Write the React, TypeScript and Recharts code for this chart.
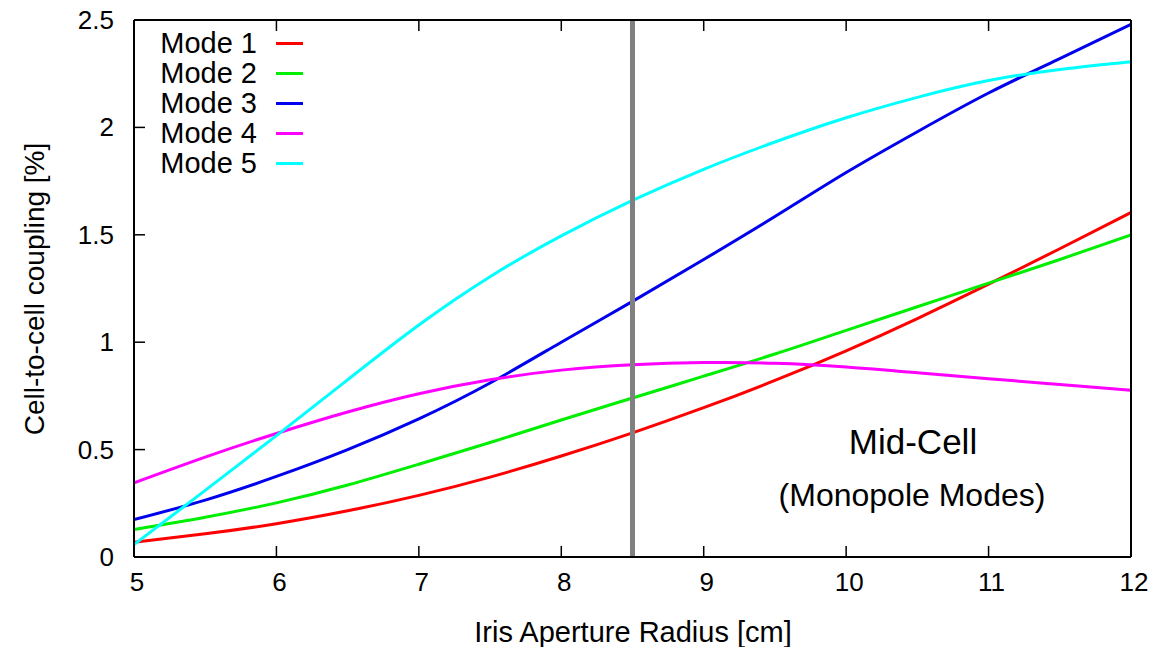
import React from 'react';
import { LineChart, Line, XAxis, YAxis, ReferenceLine } from 'recharts';

// iris aperture radius [cm]
const RADIUS = [5, 5.5, 6, 6.5, 7, 7.5, 8, 8.5, 9, 9.5, 10, 10.5, 11, 11.5, 12];

// cell-to-cell coupling [%]
const MODE1 = [0.069, 0.108, 0.155, 0.215, 0.287, 0.372, 0.47, 0.578, 0.695, 0.822, 0.96, 1.11, 1.27, 1.435, 1.604];
const MODE2 = [0.128, 0.185, 0.252, 0.335, 0.432, 0.533, 0.638, 0.74, 0.842, 0.945, 1.055, 1.165, 1.275, 1.385, 1.5];
const MODE3 = [0.174, 0.265, 0.375, 0.5, 0.643, 0.81, 1.0, 1.19, 1.385, 1.585, 1.79, 1.98, 2.16, 2.32, 2.48];
const MODE4 = [0.345, 0.465, 0.575, 0.675, 0.76, 0.825, 0.87, 0.895, 0.905, 0.902, 0.885, 0.858, 0.83, 0.803, 0.776];
const MODE5 = [0.058, 0.31, 0.565, 0.825, 1.08, 1.305, 1.495, 1.66, 1.805, 1.932, 2.045, 2.14, 2.218, 2.27, 2.306];

const X_TICKS = [5, 6, 7, 8, 9, 10, 11, 12];
const Y_TICKS = [0, 0.5, 1, 1.5, 2, 2.5];
const MID_CELL_RADIUS = 8.5;

const SERIES = [
  { key: 'm1', name: 'Mode 1', color: '#ff0000' },
  { key: 'm2', name: 'Mode 2', color: '#00ee00' },
  { key: 'm3', name: 'Mode 3', color: '#0000ee' },
  { key: 'm4', name: 'Mode 4', color: '#ff00ff' },
  { key: 'm5', name: 'Mode 5', color: '#00ffff' },
];

const data = RADIUS.map((x, i) => ({
  x,
  m1: MODE1[i],
  m2: MODE2[i],
  m3: MODE3[i],
  m4: MODE4[i],
  m5: MODE5[i],
}));

const FONT = '"Liberation Sans", Arial, Helvetica, sans-serif';
const TICK_LEN = 11;

const BottomTick = ({ x, y, payload }: any) => (
  <g>
    <line x1={x} x2={x} y1={y} y2={y - TICK_LEN} stroke="#000" strokeWidth={1.5} />
    <text x={x + 3} y={y + 34} textAnchor="middle" fontSize={26} fontFamily={FONT} fill="#000">
      {payload.value}
    </text>
  </g>
);

const TopTick = ({ x, y }: any) => (
  <line x1={x} x2={x} y1={y} y2={y + TICK_LEN} stroke="#000" strokeWidth={1.5} />
);

const LeftTick = ({ x, y, payload }: any) => (
  <g>
    <line x1={x} x2={x + TICK_LEN} y1={y} y2={y} stroke="#000" strokeWidth={1.5} />
    <text x={x - 20} y={y + 9} textAnchor="end" fontSize={26} fontFamily={FONT} fill="#000">
      {payload.value}
    </text>
  </g>
);

const RightTick = ({ x, y }: any) => (
  <line x1={x} x2={x - TICK_LEN} y1={y} y2={y} stroke="#000" strokeWidth={1.5} />
);

const axisLine = { stroke: '#000', strokeWidth: 2 };

export default function App() {
  return (
    <div style={{ position: 'absolute', left: 0, top: 0, width: 1169, height: 647, background: '#fff', fontFamily: FONT }}>
      <LineChart width={1169} height={647} data={data} margin={{ top: 19, right: 37, left: 133, bottom: 60 }}>
        <XAxis
          dataKey="x"
          type="number"
          domain={[5, 12]}
          ticks={X_TICKS}
          height={30}
          tickSize={0}
          tickMargin={0}
          tickLine={false}
          tick={<BottomTick />}
          axisLine={axisLine}
          allowDataOverflow
        />
        <XAxis
          xAxisId="top"
          orientation="top"
          dataKey="x"
          type="number"
          domain={[5, 12]}
          ticks={X_TICKS}
          height={1}
          tickSize={0}
          tickMargin={0}
          tickLine={false}
          tick={<TopTick />}
          axisLine={axisLine}
        />
        <YAxis
          type="number"
          domain={[0, 2.5]}
          ticks={Y_TICKS}
          width={1}
          tickSize={0}
          tickMargin={0}
          tickLine={false}
          tick={<LeftTick />}
          axisLine={axisLine}
          allowDataOverflow
        />
        <YAxis
          yAxisId="right"
          orientation="right"
          type="number"
          domain={[0, 2.5]}
          ticks={Y_TICKS}
          width={1}
          tickSize={0}
          tickMargin={0}
          tickLine={false}
          tick={<RightTick />}
          axisLine={axisLine}
        />
        {SERIES.map((s) => (
          <Line
            key={s.key}
            type="natural"
            dataKey={s.key}
            name={s.name}
            stroke={s.color}
            strokeWidth={3}
            dot={false}
            activeDot={false}
            isAnimationActive={false}
          />
        ))}
        <ReferenceLine x={MID_CELL_RADIUS} stroke="#808080" strokeWidth={5} />
      </LineChart>

      {/* legend */}
      <div style={{ position: 'absolute', left: 117, top: 28, fontSize: 29 }}>
        {SERIES.map((s) => (
          <div key={s.key} style={{ display: 'flex', alignItems: 'center', height: 30 }}>
            <span style={{ width: 140, textAlign: 'right', lineHeight: '30px' }}>{s.name}</span>
            <span style={{ width: 27, height: 3, marginLeft: 19, background: s.color }} />
          </div>
        ))}
      </div>

      <div
        style={{
          position: 'absolute',
          left: 35,
          top: 289,
          transform: 'translate(-50%, -50%) rotate(-90deg)',
          whiteSpace: 'nowrap',
          fontSize: 28,
        }}
      >
        Cell-to-cell coupling [%]
      </div>
      <div
        style={{
          position: 'absolute',
          left: 633,
          top: 632,
          transform: 'translate(-50%, -50%)',
          whiteSpace: 'nowrap',
          fontSize: 29,
        }}
      >
        Iris Aperture Radius [cm]
      </div>
      <div
        style={{
          position: 'absolute',
          left: 913,
          top: 442,
          transform: 'translate(-50%, -50%)',
          whiteSpace: 'nowrap',
          fontSize: 35,
        }}
      >
        Mid-Cell
      </div>
      <div
        style={{
          position: 'absolute',
          left: 912,
          top: 495,
          transform: 'translate(-50%, -50%)',
          whiteSpace: 'nowrap',
          fontSize: 32,
        }}
      >
        (Monopole Modes)
      </div>
    </div>
  );
}
